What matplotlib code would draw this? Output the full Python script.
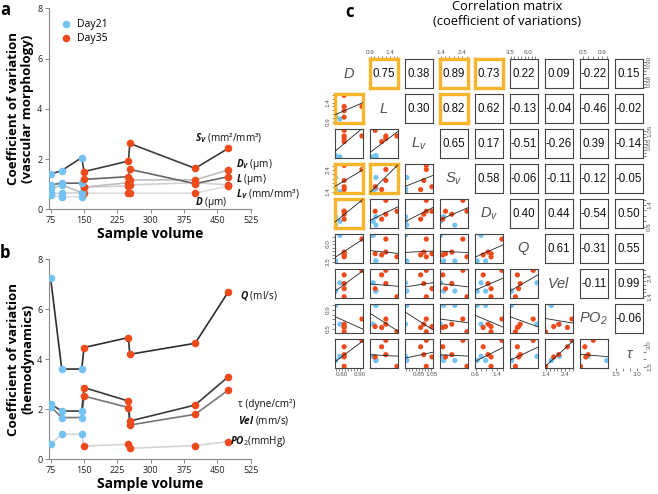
import matplotlib
matplotlib.use('Agg')
import matplotlib.pyplot as plt
import numpy as np

plt.rcParams['font.family'] = ['Open Sans', 'DejaVu Sans']
plt.rcParams['mathtext.fontset'] = 'custom'
plt.rcParams['mathtext.it'] = 'Open Sans:italic:bold'
plt.rcParams['mathtext.rm'] = 'Open Sans'
plt.rcParams['mathtext.bf'] = 'Open Sans:bold'
plt.rcParams['mathtext.sf'] = 'Liberation Sans:italic'

# sample volumes (3 at day 21, 5 at day 35)
vol_d21 = [75, 100, 145]
vol_d35 = [150, 250, 253, 400, 475]

# coefficient of variation, vascular morphology (day21 first, then day35)
Sv = [1.40, 1.54, 2.06, 1.50, 1.92, 2.62, 1.63, 2.43]
L = [0.97, 1.04, 1.04, 1.19, 1.30, 1.59, 1.02, 1.30]
Dv = [0.80, 0.97, 0.66, 0.88, 1.06, 1.17, 1.17, 1.57]
Lv = [0.64, 0.64, 0.66, 0.88, 0.93, 0.97, 1.06, 0.97]
D = [0.57, 0.50, 0.50, 0.64, 0.64, 0.64, 0.64, 0.93]

# coefficient of variation, hemodynamics
Q = [7.24, 3.61, 3.61, 4.47, 4.87, 4.20, 4.64, 6.71]
tau = [2.21, 1.93, 1.93, 2.87, 2.33, 1.53, 2.17, 3.31]
Vel = [2.11, 1.67, 1.67, 2.53, 2.07, 1.37, 1.80, 2.77]
PO2 = [0.60, 1.00, 1.00, 0.53, 0.60, 0.44, 0.55, 0.71]

# correlation matrix (upper triangle, row by row)
corr_rows = [
    [0.75, 0.38, 0.89, 0.73, 0.22, 0.09, -0.22, 0.15],
    [0.30, 0.82, 0.62, -0.13, -0.04, -0.46, -0.02],
    [0.65, 0.17, -0.51, -0.26, 0.39, -0.14],
    [0.58, -0.06, -0.11, -0.12, -0.05],
    [0.40, 0.44, -0.54, 0.50],
    [0.61, -0.31, 0.55],
    [-0.11, 0.99],
    [-0.06],
]
# pairs framed in yellow
highlight = [('D', 'L'), ('D', 'Sv'), ('D', 'Dv'), ('L', 'Sv')]

var_names = ['D', 'L', 'Lv', 'Sv', 'Dv', 'Q', 'Vel', 'PO2', 'tau']
var_labels = [r'$\mathsf{D}$', r'$\mathsf{L}$', r'$\mathsf{L_v}$', r'$\mathsf{S_v}$',
              r'$\mathsf{D_v}$', r'$\mathsf{Q}$', r'$\mathsf{Vel}$', r'$\mathsf{PO_2}$', 'τ']
var_data = [D, L, Lv, Sv, Dv, Q, Vel, PO2, tau]
# outer axis labels of the pairs plot: first label, last label, tick step, format
tick_spec = {'D': (0.60, 0.90, 0.05, '%.2f'), 'L': (0.9, 1.4, 0.1, '%.1f'),
             'Lv': (0.85, 1.05, 0.05, '%.2f'), 'Sv': (1.4, 2.4, 0.2, '%.1f'),
             'Dv': (0.6, 1.4, 0.2, '%.1f'), 'Q': (3.5, 6.0, 0.5, '%.1f'),
             'Vel': (1.4, 2.4, 0.2, '%.1f'), 'PO2': (0.5, 0.9, 0.1, '%.1f'),
             'tau': (1.5, 3.0, 0.5, '%.1f')}

blue = '#72C3F2'
orange = '#EE4B1C'
gold = '#F6B52A'

W, H = 658, 494
fig = plt.figure(figsize=(W / 100, H / 100), dpi=100)


def px_axes(left, top, right, bottom):
    return fig.add_axes([left / W, 1 - bottom / H, (right - left) / W, (bottom - top) / H])


def style_line_axes(ax, ylab):
    ax.set_xlim(72, 525)
    ax.set_ylim(0, 8)
    ax.set_xticks([75, 150, 225, 300, 375, 450, 525])
    ax.set_yticks([0, 2, 4, 6, 8])
    for s in ['top', 'right']:
        ax.spines[s].set_visible(False)
    for s in ['left', 'bottom']:
        ax.spines[s].set_color('#8a8a8a')
        ax.spines[s].set_linewidth(0.8)
    ax.tick_params(labelsize=6.5, length=3, width=0.7, color='#8a8a8a', pad=2, labelcolor='#222222')
    ax.set_xlabel('Sample volume', fontsize=10, fontweight='bold', labelpad=1)
    ax.set_ylabel(ylab, fontsize=9.5, fontweight='bold', labelpad=2, linespacing=1.1)


def draw_series(ax, y, col):
    ax.plot(vol_d21 + vol_d35, y, color=col, lw=1.2, zorder=1)
    ax.scatter(vol_d21, y[:3], s=30, color=blue, zorder=3, linewidths=0)
    ax.scatter(vol_d35, y[3:], s=30, color=orange, zorder=3, linewidths=0)


# ---- panel a
axa = px_axes(49.3, 8.3, 250.7, 209.3)
for y, col in [(D, '#dddddd'), (Lv, '#d0d0d0'), (Dv, '#bdbdbd'), (L, '#666666'), (Sv, '#3c3c3c')]:
    draw_series(axa, y, col)
style_line_axes(axa, 'Coefficient of variation\n(vascular morphology)')
h1 = axa.scatter([], [], s=30, color=blue, linewidths=0, label='Day21')
h2 = axa.scatter([], [], s=30, color=orange, linewidths=0, label='Day35')
axa.legend(handles=[h1, h2], loc='upper left', bbox_to_anchor=(0.0, 0.98), frameon=False,
           fontsize=7.5, handletextpad=0.1, labelspacing=0.3, borderaxespad=0.2)
lab_kw = dict(fontsize=7.2, va='center', ha='left', color='#111111')
axa.text(400, 2.83, '$S_V$ (mm²/mm³)', **lab_kw)
axa.text(493, 1.78, '$D_V$ (µm)', **lab_kw)
axa.text(493, 1.20, '$L$ (µm)', **lab_kw)
axa.text(493, 0.62, '$L_V$ (mm/mm³)', **lab_kw)
axa.text(400, 0.26, '$D$ (µm)', **lab_kw)

# ---- panel b
axb = px_axes(49.3, 259.3, 250.7, 459.3)
for y, col in [(PO2, '#d4d4d4'), (Vel, '#777777'), (tau, '#3a3a3a'), (Q, '#2e2e2e')]:
    draw_series(axb, y, col)
style_line_axes(axb, 'Coefficient of variation\n(hemodynamics)')
axb.text(500, 6.55, '$Q$ (ml/s)', **lab_kw)
axb.text(497, 2.21, 'τ (dyne/cm²)', **lab_kw)
axb.text(497, 1.57, '$Vel$ (mm/s)', **lab_kw)
axb.text(479, 0.72, '$PO_2$(mmHg)', **lab_kw)

fig.text(0 / W, 1 - 1 / H, 'a', fontsize=12, fontweight='bold', va='top')
fig.text(0 / W, 1 - 244 / H, 'b', fontsize=12, fontweight='bold', va='top')
fig.text(345 / W, 1 - 3 / H, 'c', fontsize=12, fontweight='bold', va='top')
fig.text(507 / W, 1 - 14 / H, 'Correlation matrix\n(coefficient of variations)',
         fontsize=9.3, ha='center', va='center', linespacing=1.15)

# ---- panel c: pairs plot
n = len(var_names)
corr = np.eye(n)
for i, row in enumerate(corr_rows):
    for k, v in enumerate(row):
        corr[i, i + 1 + k] = v
        corr[i + 1 + k, i] = v
hl = set()
for p, q in highlight:
    a_, b_ = var_names.index(p), var_names.index(q)
    hl.add((a_, b_))
    hl.add((b_, a_))

day_cols = [blue] * len(vol_d21) + [orange] * len(vol_d35)
lims = []
for name, vals in zip(var_names, var_data):
    a, b, step, fmt = tick_spec[name]
    lo, hi = min(min(vals), a), max(max(vals), b)
    pad = 0.04 * (hi - lo)
    lims.append((lo - pad, hi + pad))

cell, pitch = 28.5, 35.0
x0, y0 = 334.5, 59.3
c_kw = dict(family=['Liberation Sans', 'DejaVu Sans'])


def outer_ticks(ax, idx, axis):
    a, b, step, fmt = tick_spec[var_names[idx]]
    lo, hi = lims[idx]
    ticks = [a + step * k for k in range(-20, 40) if lo <= a + step * k <= hi]
    labels = [fmt % t if (abs(t - a) < 1e-9 or abs(t - b) < 1e-9) else '' for t in ticks]
    if axis in ('top', 'bottom'):
        ax.set_xticks(ticks)
        ax.set_xticklabels(labels, **c_kw)
        ax.tick_params(axis='x', which='both', top=(axis == 'top'), bottom=(axis == 'bottom'),
                       labeltop=(axis == 'top'), labelbottom=(axis == 'bottom'),
                       labelsize=4.5, length=2, width=0.5, pad=1, colors='#555555')
    else:
        ax.set_yticks(ticks)
        ax.set_yticklabels(labels, rotation=90, va='center', **c_kw)
        ax.tick_params(axis='y', which='both', left=(axis == 'left'), right=(axis == 'right'),
                       labelleft=(axis == 'left'), labelright=(axis == 'right'),
                       labelsize=4.5, length=2, width=0.5, pad=1, colors='#555555')


for i in range(n):
    for j in range(n):
        left = x0 + pitch * j
        top = y0 + pitch * i
        ax = px_axes(left, top, left + cell, top + cell)
        ax.set_xlim(lims[j])
        ax.set_ylim(lims[i])
        ax.set_xticks([])
        ax.set_yticks([])
        hi_light = (i, j) in hl
        for s in ax.spines.values():
            s.set_color(gold if hi_light else '#444444')
            s.set_linewidth(2.4 if hi_light else 0.8)
        if i == j:
            for s in ax.spines.values():
                s.set_visible(False)
            ax.text(0.5, 0.5, var_labels[i], transform=ax.transAxes, ha='center', va='center',
                    fontsize=10.5, color='#505050', style='italic', **c_kw)
        elif i < j:
            ax.text(0.5, 0.5, '%.2f' % corr[i, j], transform=ax.transAxes, ha='center',
                    va='center', fontsize=8.3, color='#111111', **c_kw)
        else:
            xv = np.array(var_data[j])
            yv = np.array(var_data[i])
            ax.scatter(xv, yv, s=14, c=day_cols, linewidths=0, zorder=2)
            k, c0 = np.polyfit(xv, yv, 1)
            xs = np.array(lims[j])
            ax.plot(xs, k * xs + c0, color='#222222', lw=0.6, zorder=3)
        if i == 0 and j % 2 == 1:
            outer_ticks(ax, j, 'top')
        if i == n - 1 and j % 2 == 0:
            outer_ticks(ax, j, 'bottom')
        if j == 0 and i % 2 == 1:
            outer_ticks(ax, i, 'left')
        if j == n - 1 and i % 2 == 0:
            outer_ticks(ax, i, 'right')

fig.savefig('out.png', dpi=100)
